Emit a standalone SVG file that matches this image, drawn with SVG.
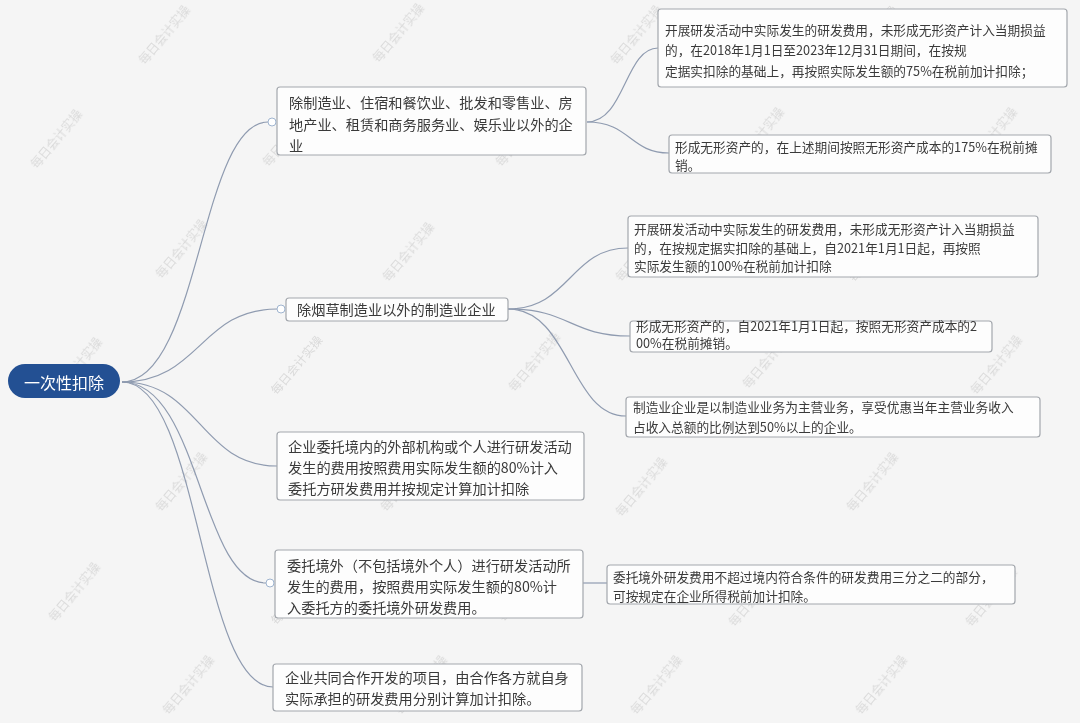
<svg xmlns="http://www.w3.org/2000/svg" width="1080" height="723" viewBox="0 0 1080 723">
<style>
.bg{fill:#f5f5f5}
.box{fill:#fdfdfd;stroke:#a3a7ad;stroke-width:1.2}
.t{font-family:"Microsoft YaHei","Noto Sans CJK SC",sans-serif;fill:#3a3a3a}
.t14{font-size:14.2px}
.t13{font-size:12.7px}
.wm{font-family:"Noto Sans CJK SC",sans-serif;font-size:12px;fill:#c9c9c9;opacity:0.6}
.ln{fill:none;stroke:#8f9bb0;stroke-width:1.2}
.cc{fill:#ffffff;stroke:#9fb4cf;stroke-width:1}
</style>
<rect class="bg" x="0" y="0" width="1080" height="723"/>
<g id="watermarks">
<g class="wm">
<text transform="translate(168,38) rotate(-50)" text-anchor="middle">每日会计实操</text>
<text transform="translate(402,36) rotate(-50)" text-anchor="middle">每日会计实操</text>
<text transform="translate(640,38) rotate(-50)" text-anchor="middle">每日会计实操</text>
<text transform="translate(875,38) rotate(-50)" text-anchor="middle">每日会计实操</text>
<text transform="translate(60,142) rotate(-50)" text-anchor="middle">每日会计实操</text>
<text transform="translate(292,140) rotate(-50)" text-anchor="middle">每日会计实操</text>
<text transform="translate(525,140) rotate(-50)" text-anchor="middle">每日会计实操</text>
<text transform="translate(762,140) rotate(-50)" text-anchor="middle">每日会计实操</text>
<text transform="translate(995,140) rotate(-50)" text-anchor="middle">每日会计实操</text>
<text transform="translate(185,252) rotate(-50)" text-anchor="middle">每日会计实操</text>
<text transform="translate(412,255) rotate(-50)" text-anchor="middle">每日会计实操</text>
<text transform="translate(645,255) rotate(-50)" text-anchor="middle">每日会计实操</text>
<text transform="translate(878,255) rotate(-50)" text-anchor="middle">每日会计实操</text>
<text transform="translate(80,370) rotate(-50)" text-anchor="middle">每日会计实操</text>
<text transform="translate(300,368) rotate(-50)" text-anchor="middle">每日会计实操</text>
<text transform="translate(538,365) rotate(-50)" text-anchor="middle">每日会计实操</text>
<text transform="translate(772,362) rotate(-50)" text-anchor="middle">每日会计实操</text>
<text transform="translate(1000,368) rotate(-50)" text-anchor="middle">每日会计实操</text>
<text transform="translate(185,485) rotate(-50)" text-anchor="middle">每日会计实操</text>
<text transform="translate(410,485) rotate(-50)" text-anchor="middle">每日会计实操</text>
<text transform="translate(645,490) rotate(-50)" text-anchor="middle">每日会计实操</text>
<text transform="translate(876,485) rotate(-50)" text-anchor="middle">每日会计实操</text>
<text transform="translate(78,595) rotate(-50)" text-anchor="middle">每日会计实操</text>
<text transform="translate(300,598) rotate(-50)" text-anchor="middle">每日会计实操</text>
<text transform="translate(528,595) rotate(-50)" text-anchor="middle">每日会计实操</text>
<text transform="translate(758,600) rotate(-50)" text-anchor="middle">每日会计实操</text>
<text transform="translate(995,600) rotate(-50)" text-anchor="middle">每日会计实操</text>
<text transform="translate(192,688) rotate(-50)" text-anchor="middle">每日会计实操</text>
<text transform="translate(425,688) rotate(-50)" text-anchor="middle">每日会计实操</text>
<text transform="translate(660,688) rotate(-50)" text-anchor="middle">每日会计实操</text>
<text transform="translate(885,688) rotate(-50)" text-anchor="middle">每日会计实操</text>
</g>
</g>
<g id="connectors">
<path class="ln" d="M122,382 C200,382 200,122 268,122"/>
<path class="ln" d="M122,382 C200,382 200,309 277,309"/>
<path class="ln" d="M122,382 C200,382 200,466 277,466"/>
<path class="ln" d="M122,382 C200,382 200,583 266,583"/>
<path class="ln" d="M122,382 C200,382 200,687 273,687"/>
<path class="ln" d="M587,122 C625,122 625,48 658,48"/>
<path class="ln" d="M587,122 C630,122 630,153 669,153"/>
<path class="ln" d="M508,309 C570,309 570,248 628,248"/>
<path class="ln" d="M508,309 C570,309 570,336 630,336"/>
<path class="ln" d="M508,309 C570,309 570,416 626,416"/>
<path class="ln" d="M583,583 L607,583"/>
</g>
<g id="root">
<rect x="8" y="364" width="112" height="34" rx="17" fill="#235093"/>
<text class="t" x="64" y="388.5" text-anchor="middle" font-size="16" style="fill:#ffffff">一次性扣除</text>
</g>
<g id="n1">
<rect class="box" x="277" y="87" width="309" height="68" rx="3"/>
<text class="t t14"><tspan x="289" y="108">除制造业、住宿和餐饮业、批发和零售业、房</tspan><tspan x="289" y="130">地产业、租赁和商务服务业、娱乐业以外的企</tspan><tspan x="289" y="151">业</tspan></text>
<circle class="cc" cx="272" cy="122" r="4"/>
</g>
<g id="n1a">
<rect class="box" x="658" y="9" width="409" height="78" rx="3"/>
<text class="t t13"><tspan x="665" y="35">开展研发活动中实际发生的研发费用，未形成无形资产计入当期损益</tspan><tspan x="665" y="55">的，在2018年1月1日至2023年12月31日期间，在按规</tspan><tspan x="665" y="75.5">定据实扣除的基础上，再按照实际发生额的75%在税前加计扣除；</tspan></text>
</g>
<g id="n1b">
<rect class="box" x="669" y="135" width="382" height="38" rx="3"/>
<text class="t t13"><tspan x="675" y="151.5">形成无形资产的，在上述期间按照无形资产成本的175%在税前摊</tspan><tspan x="675" y="170">销。</tspan></text>
</g>
<g id="n2">
<rect class="box" x="286" y="298" width="222" height="23" rx="3"/>
<text class="t t14" x="297" y="314.5">除烟草制造业以外的制造业企业</text>
<circle class="cc" cx="281" cy="309" r="4"/>
</g>
<g id="n2a">
<rect class="box" x="628" y="216" width="410" height="61" rx="3"/>
<text class="t t13"><tspan x="634" y="234">开展研发活动中实际发生的研发费用，未形成无形资产计入当期损益</tspan><tspan x="634" y="252.5">的，在按规定据实扣除的基础上，自2021年1月1日起，再按照</tspan><tspan x="634" y="271">实际发生额的100%在税前加计扣除</tspan></text>
</g>
<g id="n2b">
<rect class="box" x="630" y="321" width="362" height="31" rx="3"/>
<text class="t t13"><tspan x="636" y="330.5">形成无形资产的，自2021年1月1日起，按照无形资产成本的2</tspan><tspan x="636" y="348">00%在税前摊销。</tspan></text>
</g>
<g id="n2c">
<rect class="box" x="626" y="397" width="414" height="40" rx="3"/>
<text class="t t13"><tspan x="633" y="412">制造业企业是以制造业业务为主营业务，享受优惠当年主营业务收入</tspan><tspan x="633" y="432">占收入总额的比例达到50%以上的企业。</tspan></text>
</g>
<g id="n3">
<rect class="box" x="277" y="432" width="307" height="68" rx="3"/>
<text class="t t14"><tspan x="288" y="452">企业委托境内的外部机构或个人进行研发活动</tspan><tspan x="288" y="473">发生的费用按照费用实际发生额的80%计入</tspan><tspan x="288" y="494">委托方研发费用并按规定计算加计扣除</tspan></text>
</g>
<g id="n4">
<rect class="box" x="275" y="550" width="308" height="68" rx="3"/>
<text class="t t14"><tspan x="287" y="571">委托境外（不包括境外个人）进行研发活动所</tspan><tspan x="287" y="592">发生的费用，按照费用实际发生额的80%计</tspan><tspan x="287" y="613">入委托方的委托境外研发费用。</tspan></text>
<circle class="cc" cx="270" cy="583" r="4"/>
</g>
<g id="n4a">
<rect class="box" x="607" y="565" width="408" height="39" rx="3"/>
<text class="t t13"><tspan x="613" y="582">委托境外研发费用不超过境内符合条件的研发费用三分之二的部分，</tspan><tspan x="613" y="601">可按规定在企业所得税前加计扣除。</tspan></text>
</g>
<g id="n5">
<rect class="box" x="273" y="664" width="309" height="47" rx="3"/>
<text class="t t14"><tspan x="285" y="683">企业共同合作开发的项目，由合作各方就自身</tspan><tspan x="285" y="704">实际承担的研发费用分别计算加计扣除。</tspan></text>
</g>
</svg>
